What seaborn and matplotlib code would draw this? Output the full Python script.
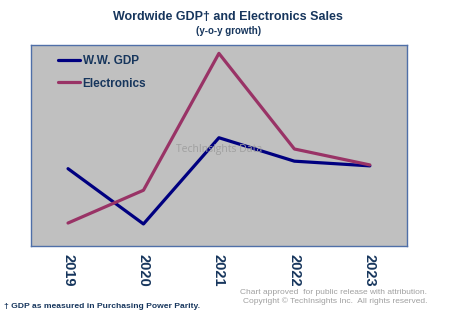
import matplotlib
matplotlib.use("Agg")
import matplotlib.pyplot as plt
import seaborn as sns
import pandas as pd

years = ["2019", "2020", "2021", "2022", "2023"]
gdp = [2.8, -3.1, 6.1, 3.6, 3.1]
electronics = [-3.0, 0.5, 15.1, 4.9, 3.2]
series_names = ["W.W. GDP", "Electronics"]

df = pd.DataFrame({
    "year": years * 2,
    "growth": gdp + electronics,
    "series": [series_names[0]] * len(years) + [series_names[1]] * len(years),
})

sns.set_style("white")
plt.rcParams['font.family'] = ['Liberation Sans', 'DejaVu Sans']

navy = "#17365D"
fig = plt.figure(figsize=(4.5, 3.28), dpi=100)
ax = fig.add_axes([0.069, 0.25, 0.835, 0.613])
ax.set_facecolor("#C0C0C0")

sns.lineplot(data=df, x="year", y="growth", hue="series",
             palette={"W.W. GDP": "#000080", "Electronics": "#993366"},
             linewidth=2.3, ax=ax, sort=False)

ax.set_xlim(-0.49, 4.49)
ax.set_ylim(-5.45, 16.0)
ax.set_yticks([])
ax.set_xlabel("")
ax.set_ylabel("")
ax.tick_params(axis="x", length=0, pad=6)
for lbl in ax.get_xticklabels():
    lbl.set_rotation(-90)
    lbl.set_fontweight("bold")
    lbl.set_fontsize(10.5)
    lbl.set_color(navy)
    lbl.set_va("top")
for s in ax.spines.values():
    s.set_color("#4F6FA8")
    s.set_linewidth(1.0)

leg = ax.legend(loc="upper left", frameon=False, handlelength=1.6,
                handletextpad=0.2, labelspacing=0.7,
                bbox_to_anchor=(0.045, 1.0), borderaxespad=0.3)
for t in leg.get_texts():
    t.set_fontweight("bold")
    t.set_fontsize(8.5)
    t.set_color(navy)

ax.text(0.5, 0.48, "TechInsights Data", transform=ax.transAxes,
        ha="center", va="center", fontsize=7.5, color="#A0A0A0",
        family=["Open Sans", "DejaVu Sans"])

fig.text(0.507, 0.948, "Wordwide GDP\u2020 and Electronics Sales", ha="center",
         va="center", fontsize=9, fontweight="bold", color=navy)
fig.text(0.507, 0.905, "(y-o-y growth)", ha="center", va="center",
         fontsize=7, fontweight="bold", color=navy)

fig.text(0.008, 0.067, "\u2020 GDP as measured in Purchasing Power Parity.",
         ha="left", va="center", fontsize=6.1, fontweight="bold", color=navy)
fig.text(0.95, 0.107, "Chart approved  for public release with attribution.",
         ha="right", va="center", fontsize=6, color="#A0A0A0")
fig.text(0.95, 0.082, "Copyright \u00a9 TechInsights Inc.  All rights reserved.",
         ha="right", va="center", fontsize=6, color="#A0A0A0")

fig.savefig("out.png", dpi=100, facecolor="white")
